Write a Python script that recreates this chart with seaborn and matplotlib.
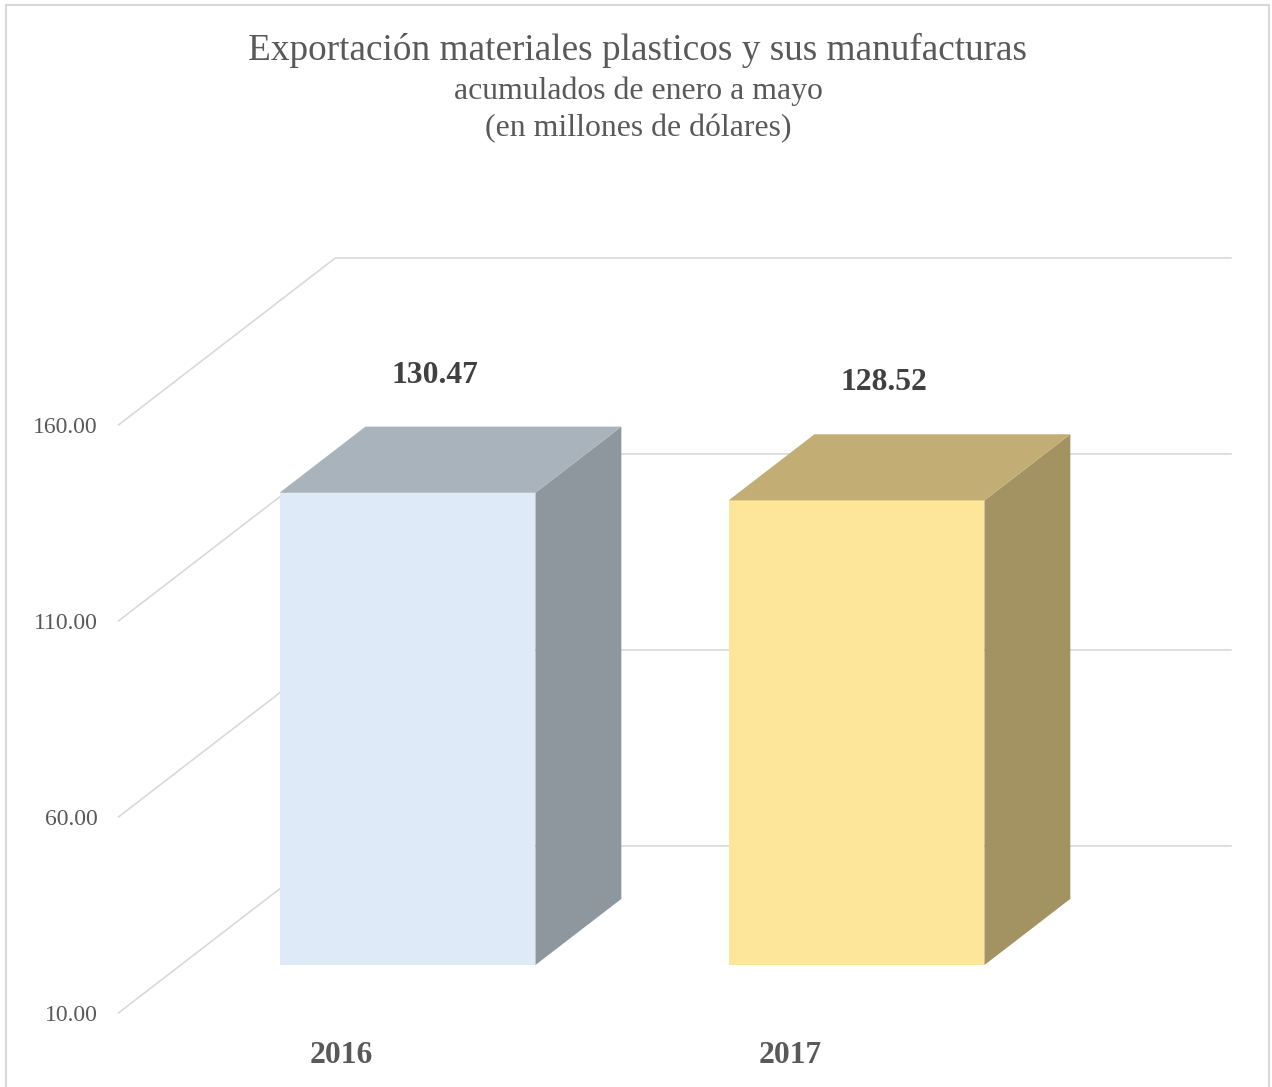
import matplotlib
matplotlib.use("Agg")
import matplotlib.pyplot as plt
from matplotlib.patches import Rectangle
import seaborn as sns

# data
years = ["2016", "2017"]
values = [130.47, 128.52]
ticks = [10, 60, 110, 160]
tick_labels = ["10.00", "60.00", "110.00", "160.00"]

title = "Exportación materiales plasticos y sus manufacturas"
subtitle1 = "acumulados de enero a mayo"
subtitle2 = "(en millones de dólares)"

# colours of the three visible faces of each box
front_colors = ["#DEEAF8", "#FDE699"]
top_colors = ["#A9B3BB", "#C2AE74"]
side_colors = ["#8E969E", "#A39262"]
grid_color = "#D9D9D9"
text_color = "#595959"

# oblique 3d: full depth of the plot box in category / value units
DX, DY = 0.483, 42.6
zf, zb = 0.287, 0.683  # bar front and back depth (0 = front, 1 = back wall)
width = 0.57
floor = ticks[0]
wall_left, wall_right = -0.505, 1.49


def proj(c, v, z):
    # category, value, depth -> data coords (bar front faces sit at depth zf)
    return c + (z - zf) * DX, v + (z - zf) * DY


sns.set_style("white")
plt.rcParams["font.family"] = ["Liberation Serif", "DejaVu Serif"]

W, H = 1272, 1087
fig = plt.figure(figsize=(W / 100, H / 100), dpi=100)
ax = fig.add_axes([0, 0, 1, 1])

# walls: side wall diagonals and back wall lines
for t in ticks:
    x0, y0 = proj(wall_left, t, 0)
    x1, y1 = proj(wall_left, t, 1)
    x2, y2 = proj(wall_right, t, 1)
    ax.plot([x0, x1, x2], [y0, y1, y2], color=grid_color, lw=1.2, zorder=1,
            solid_joinstyle="miter")

# front faces
sns.barplot(x=years, y=[v - floor for v in values], hue=years,
            palette=front_colors, saturation=1, bottom=floor, width=width,
            legend=False, linewidth=0, ax=ax, zorder=3)

# side and top faces
for i, v in enumerate(values):
    l, r = i - width / 2, i + width / 2
    side = [proj(r, floor, zf), proj(r, floor, zb), proj(r, v, zb), proj(r, v, zf)]
    top = [proj(l, v, zf), proj(r, v, zf), proj(r, v, zb), proj(l, v, zb)]
    ax.fill(*zip(*side), color=side_colors[i], lw=0, zorder=3)
    ax.fill(*zip(*top), color=top_colors[i], lw=0, zorder=3)
    ax.text(i + 0.06, v + 30.0, f"{v:.2f}", ha="center", va="center",
            fontsize=22.8, fontweight="bold", color="#404040")
    cx, cy = proj(i, floor - 10.8, 0)
    ax.text(cx - 0.01, cy, years[i], ha="center", va="center",
            fontsize=22.7, fontweight="bold", color=text_color)

for t, lab in zip(ticks, tick_labels):
    tx, ty = proj(wall_left, t, 0)
    ax.text(tx - 0.047, ty - 0.7, lab, ha="right", va="center", fontsize=17,
            color=text_color)

# place the scene in pixels like the original
ax.set_xlim(-407.5 / 449, (W - 407.5) / 449)
ax.set_ylim(floor - (H - 965) / 3.92, floor + 965 / 3.92)
ax.axis("off")

fig.text(637.5 / W, 1 - 50 / H, title, ha="center", va="center",
         fontsize=26.8, color=text_color)
fig.text(638.5 / W, 1 - 91 / H, subtitle1, ha="center", va="center",
         fontsize=22.9, color=text_color)
fig.text(638.5 / W, 1 - 129 / H, subtitle2, ha="center", va="center",
         fontsize=22.9, color=text_color)

fig.add_artist(Rectangle((6 / W, -0.01), (1269 - 6) / W, 1.01 - 5 / H,
                         transform=fig.transFigure, fill=False,
                         ec=grid_color, lw=1.5))

fig.savefig("out.png", dpi=100)
